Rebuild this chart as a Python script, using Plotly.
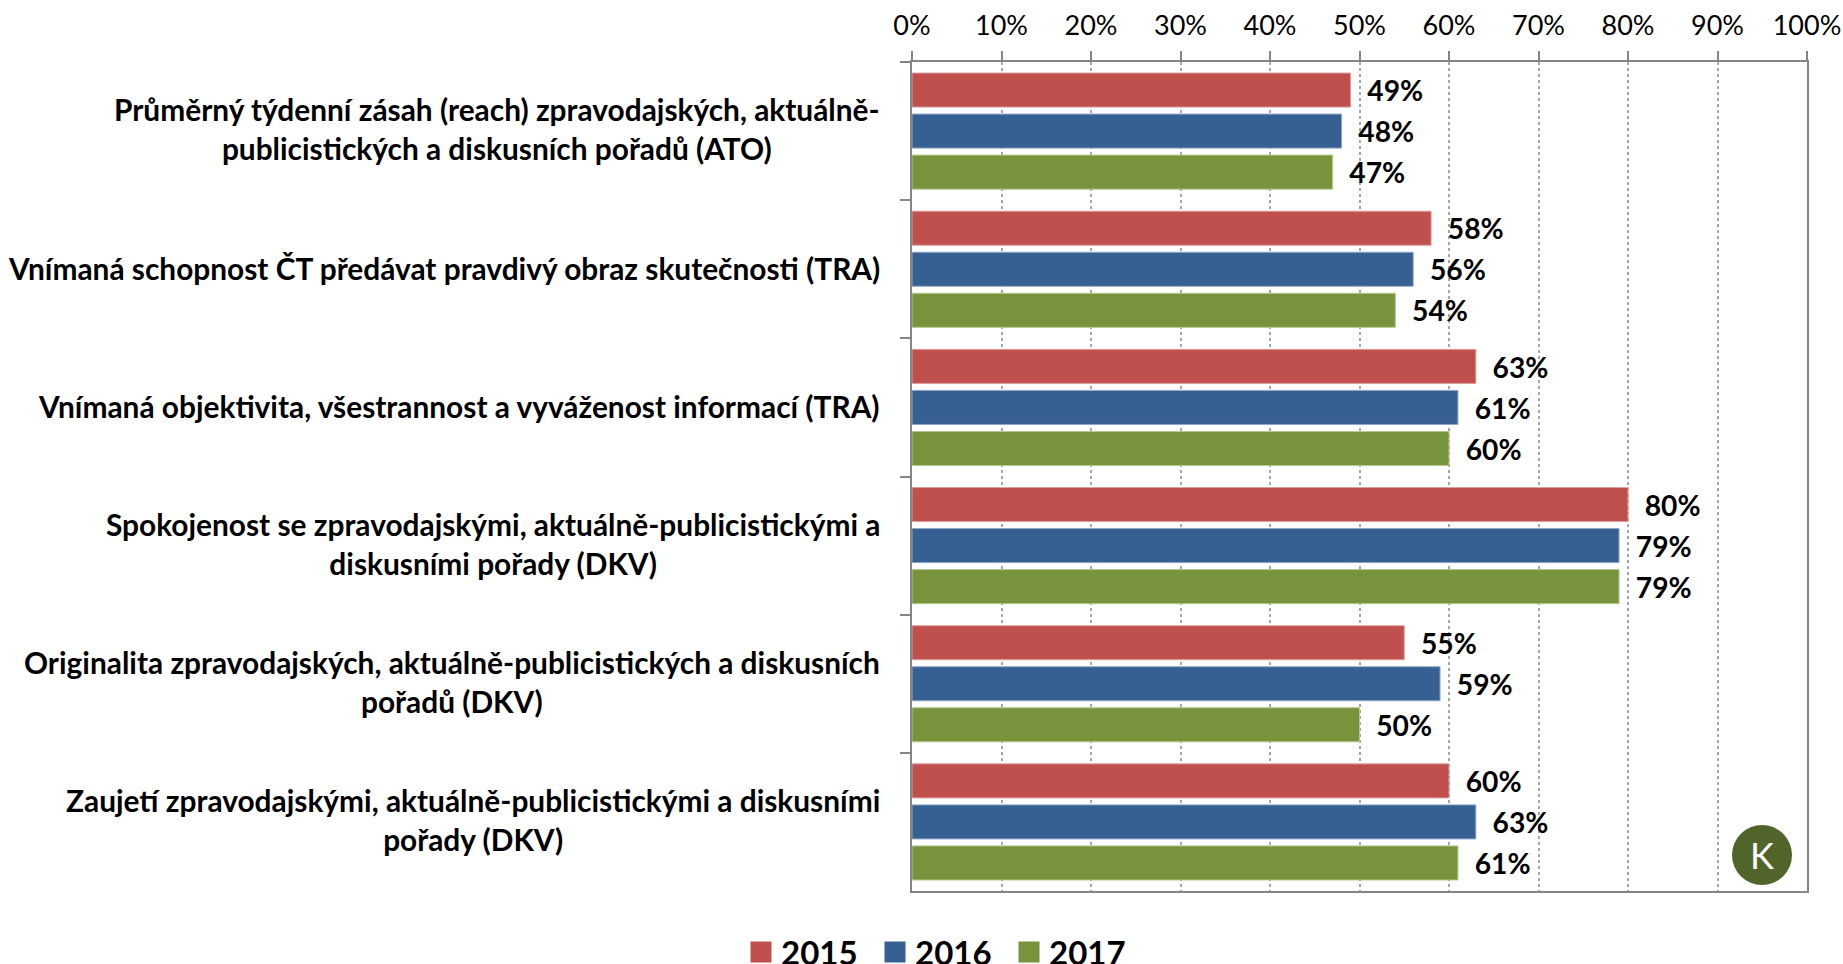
import plotly.graph_objects as go

categories = [
    "Průměrný týdenní zásah (reach) zpravodajských, aktuálně-<br>publicistických a diskusních pořadů (ATO)",
    "Vnímaná schopnost ČT předávat pravdivý obraz skutečnosti (TRA)",
    "Vnímaná objektivita, všestrannost a vyváženost informací (TRA)",
    "Spokojenost se zpravodajskými, aktuálně-publicistickými a<br>diskusními pořady (DKV)",
    "Originalita zpravodajských, aktuálně-publicistických a diskusních<br>pořadů (DKV)",
    "Zaujetí zpravodajskými, aktuálně-publicistickými a diskusními<br>pořady (DKV)",
]
values_2015 = [49, 58, 63, 80, 55, 60]
values_2016 = [48, 56, 61, 79, 59, 63]
values_2017 = [47, 54, 60, 79, 50, 61]
series_names = ["2015", "2016", "2017"]
colors = ["#C0504D", "#376092", "#77933C"]
borders = ["#DDA0A0", "#8FA8C8", "#B5C98E"]
FONT = "Lato"
BLACK = "#000000"

W, H = 1843, 964
L, R, T, B = 912, 36, 62, 73
PW, PH = W - L - R, H - T - B

fig = go.Figure()
for name, vals, c, bc in zip(series_names, [values_2015, values_2016, values_2017], colors, borders):
    fig.add_trace(go.Bar(
        y=categories, x=vals, name=name, orientation="h", showlegend=False,
        marker=dict(color=c, line=dict(color=bc, width=1)),
        texttemplate="\u00a0\u00a0%{x}", textposition="outside", cliponaxis=False,
        textfont=dict(family=FONT, size=29, color=BLACK, weight="bold"),
    ))
for name, c in zip(series_names, colors):
    fig.add_trace(go.Scatter(
        x=[None], y=[None], mode="markers", name=name,
        marker=dict(symbol="square", size=16, color=c, line=dict(color=c, width=5)),
    ))

annotations = [
    dict(x=(882 - L) / PW, xref="paper", y=cat, yref="y", text=cat, showarrow=False,
         xanchor="right", yanchor="middle", align="center", yshift=2 if "<br>" in cat else 1,
         font=dict(family=FONT, size=29.85, color=BLACK, weight="bold"))
    for cat in categories
]
annotations.append(dict(x=(1762 - L) / PW, y=(H - B - 855) / PH, xref="paper", yref="paper",
                        text="K", showarrow=False, xanchor="center", yanchor="middle",
                        font=dict(family=FONT, size=36, color="#FFFFFF", weight=400)))

fig.update_layout(
    width=W, height=H, autosize=False,
    margin=dict(l=L, r=R, t=T, b=B, pad=0, autoexpand=False),
    paper_bgcolor="white", plot_bgcolor="white",
    barmode="group", bargap=0.109, bargroupgap=0.17,
    font=dict(family=FONT, color=BLACK),
    xaxis=dict(range=[0, 100], dtick=10, tick0=0, side="top", ticksuffix="%",
               showgrid=True, gridcolor="#A6A6A6", griddash="dot", gridwidth=2,
               showline=True, linecolor="#868686", linewidth=2, mirror=True,
               ticks="outside", ticklen=9, tickwidth=2, tickcolor="#868686", ticklabelstandoff=5,
               tickfont=dict(family=FONT, size=27, color=BLACK), zeroline=False),
    yaxis=dict(autorange="reversed", type="category", tickson="boundaries",
               showticklabels=False, showgrid=False, zeroline=False,
               showline=True, linecolor="#868686", linewidth=2, mirror=True,
               ticks="outside", ticklen=10, tickwidth=2, tickcolor="#868686"),
    legend=dict(orientation="h", xref="container", yref="container", x=741 / W, xanchor="left",
                y=1 - 924 / H, yanchor="top", entrywidth=89, entrywidthmode="pixels",
                font=dict(family=FONT, size=33, color=BLACK, weight="bold"),
                bgcolor="rgba(0,0,0,0)", itemsizing="trace"),
    annotations=annotations,
    shapes=[dict(type="circle", xref="paper", yref="paper",
                 x0=(1732 - L) / PW, x1=(1792 - L) / PW,
                 y0=(H - B - 885) / PH, y1=(H - B - 825) / PH,
                 fillcolor="#51652B", line=dict(width=0), layer="above")],
)
fig.write_html("out.html", config={"displayModeBar": False},
               post_script="document.body.style.margin='0';document.documentElement.style.overflow='hidden';")
